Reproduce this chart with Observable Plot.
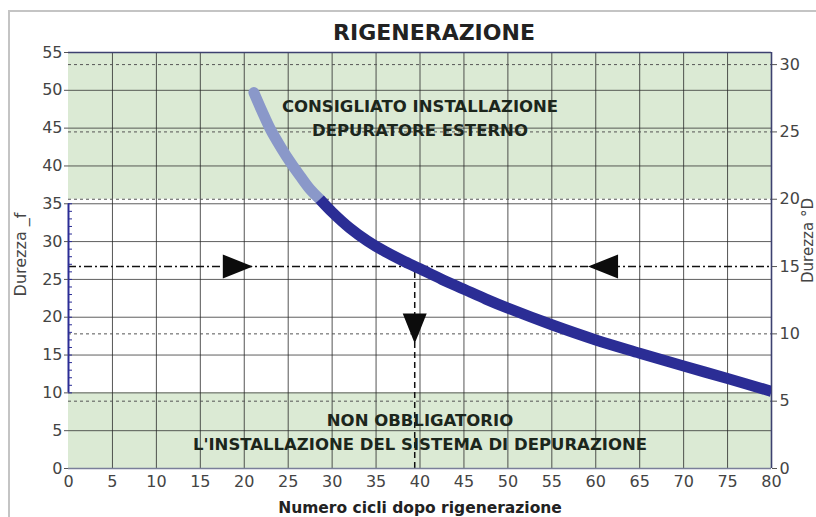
<!DOCTYPE html>
<html>
<head>
<meta charset="utf-8">
<script src="https://cdn.jsdelivr.net/npm/d3@7"></script>
<script src="https://cdn.jsdelivr.net/npm/@observablehq/plot@0.6"></script>
<style>
  body { margin: 0; background: #fff; }
  #wrap { position: relative; width: 816px; height: 517px; overflow: hidden; }
  #border { position: absolute; left: 8px; top: 10px; width: 900px; height: 600px;
            border-left: 2px solid #c4c4c4; border-top: 2px solid #c4c4c4; }
  #chart { position: absolute; left: 0; top: 0; }
</style>
</head>
<body>
<div id="wrap"><div id="border"></div><div id="chart"></div></div>
<script>
// ---- data ----
const titleText = "RIGENERAZIONE";
const xLabel = "Numero cicli dopo rigenerazione";
const yLeftLabel = "Durezza _f";
const yRightLabel = "Durezza °D";

const xTicks = [0, 5, 10, 15, 20, 25, 30, 35, 40, 45, 50, 55, 60, 65, 70, 75, 80];
const leftTicks = [0, 5, 10, 15, 20, 25, 30, 35, 40, 45, 50, 55];
const rightTicks = [0, 5, 10, 15, 20, 25, 30];
const fPerD = 1.78; // °f per °D

// curve, part inside the upper zone (light) and below (dark)
const cyclesHigh = [21.1, 22.0, 23.0, 24.2, 25.3, 26.4, 27.5, 28.6];
const hardHigh   = [49.7, 47.3, 44.8, 42.4, 40.4, 38.6, 36.9, 35.6];
const cyclesLow  = [28.6, 30.0, 32.0, 34.0, 36.0, 38.0, 40.0, 42.5, 45.0, 47.5, 50.0, 55.0, 60.0, 65.0, 70.0, 75.0, 80.0];
const hardLow    = [35.6, 33.9, 31.8, 30.1, 28.7, 27.5, 26.4, 25.0, 23.7, 22.4, 21.2, 19.0, 17.0, 15.25, 13.55, 11.9, 10.2];

// zones
const zoneNames = ["CONSIGLIATO INSTALLAZIONE\nDEPURATORE ESTERNO", "NON OBBLIGATORIO\nL'INSTALLAZIONE DEL SISTEMA DI DEPURAZIONE"];
const zoneFrom = [35.6, 0];
const zoneTo = [55, 10];
const zoneLabelX = [40, 40];
const zoneLabelY = [46.5, 5.1];

// reading example
const readHardness = 26.7;  // 15 °D
const readCycles = 39.4;
const arrowX = [19.2, 60.9, 39.4];
const arrowY = [26.7, 26.7, 18.6];
const arrowAngle = [90, -90, 180];

const blueAxisFrom = 10, blueAxisTo = 35;
const minorTicks = d3.range(blueAxisFrom, blueAxisTo + 1, 1);

// ---- derived tables ----
const high = cyclesHigh.map((x, i) => ({x, y: hardHigh[i]}));
const low = cyclesLow.map((x, i) => ({x, y: hardLow[i]}));
const zones = zoneNames.map((name, i) => ({name, y1: zoneFrom[i], y2: zoneTo[i], lx: zoneLabelX[i], ly: zoneLabelY[i]}));
const arrows = arrowX.map((x, i) => ({x, y: arrowY[i], a: arrowAngle[i]}));
const rightInLeft = rightTicks.map(d => d * fPerD);
const dottedLines = rightInLeft.filter(v => Math.abs(v - readHardness) > 0.5);

const arrowSymbol = {
  draw(context, size) {
    const k = Math.sqrt(size / Math.PI);
    context.moveTo(0, -1.3 * k);
    context.lineTo(k, 1.2 * k);
    context.lineTo(-k, 1.2 * k);
    context.closePath();
  }
};

const font = "'DejaVu Sans', sans-serif";

const chart = Plot.plot({
  width: 816,
  height: 517,
  marginLeft: 68,
  marginRight: 45,
  marginTop: 52,
  marginBottom: 49,
  style: {fontFamily: font, fontSize: "16px", color: "#444", background: "transparent"},
  x: {domain: [0, 80]},
  y: {domain: [0, 55]},
  marks: [
    Plot.rect(zones, {x1: 0, x2: 80, y1: "y1", y2: "y2", fill: "#dbead4"}),
    Plot.gridX(xTicks.filter(d => d > 0 && d < 80), {stroke: "#2a2a2a", strokeOpacity: 0.8}),
    Plot.gridY(leftTicks.filter(d => d > 0 && d < 55), {stroke: "#2a2a2a", strokeOpacity: 0.75}),
    Plot.ruleY(dottedLines, {stroke: "#555", strokeDasharray: "3,3", strokeWidth: 1}),
    Plot.ruleY([readHardness], {stroke: "#111", strokeDasharray: "8,3,2,3", strokeWidth: 1.4}),
    Plot.ruleX([readCycles], {y1: 0, y2: readHardness, stroke: "#111", strokeDasharray: "6,4", strokeWidth: 1.5}),
    Plot.ruleY([55], {stroke: "#3d4170", strokeWidth: 1.6}),
    Plot.ruleY([0], {stroke: "#7a7f9a", strokeWidth: 1.4}),
    Plot.ruleX([80], {stroke: "#3d4170", strokeWidth: 1.6}),
    Plot.ruleX([0], {y1: blueAxisFrom, y2: blueAxisTo, stroke: "#2b2d95", strokeWidth: 2}),
    Plot.axisY({ticks: minorTicks, tickSize: -4, tickFormat: () => "", stroke: "#2b2d95"}),
    Plot.text(zones, {x: "lx", y: "ly", text: "name", fontWeight: "bold", fontSize: 16.5, fill: "#1c261c", lineHeight: 1.45}),
    Plot.line(high, {x: "x", y: "y", stroke: "#8a98c9", strokeWidth: 11, strokeLinecap: "round", curve: "catmull-rom"}),
    Plot.line(low, {x: "x", y: "y", stroke: "#2b2d95", strokeWidth: 11, strokeLinecap: "butt", curve: "catmull-rom", clip: "frame"}),
    Plot.dot(arrows, {x: "x", y: "y", rotate: "a", symbol: arrowSymbol, r: 12, fill: "#0c0c0c", stroke: "none"}),
    Plot.axisX({ticks: xTicks, tickSize: 0, tickPadding: 7, fill: "#444"}),
    Plot.axisY({ticks: leftTicks, tickSize: 4, tickPadding: 2, fill: "#444", stroke: "#555"}),
    Plot.axisY({anchor: "right", ticks: rightInLeft, tickFormat: d => Math.round(d / fPerD), tickSize: 5, tickPadding: 3, fill: "#444", stroke: "#555"}),
    Plot.text([titleText], {frameAnchor: "top", dx: 14, dy: -20, lineAnchor: "middle", fontWeight: "bold", fontSize: 22, fill: "#222"}),
    Plot.text([xLabel], {frameAnchor: "bottom", dy: 40, lineAnchor: "middle", fontWeight: "bold", fontSize: 15.5, fill: "#222"}),
    Plot.text([yLeftLabel], {frameAnchor: "left", dx: -48, dy: -6, rotate: -90, textAnchor: "middle", lineAnchor: "middle", fontSize: 16, fill: "#444", style: "letter-spacing:1px"}),
    Plot.text([yRightLabel], {frameAnchor: "right", dx: 37, dy: -20, rotate: -90, textAnchor: "middle", lineAnchor: "middle", fontSize: 15, fill: "#444"})
  ]
});
document.getElementById("chart").appendChild(chart);
</script>
</body>
</html>
